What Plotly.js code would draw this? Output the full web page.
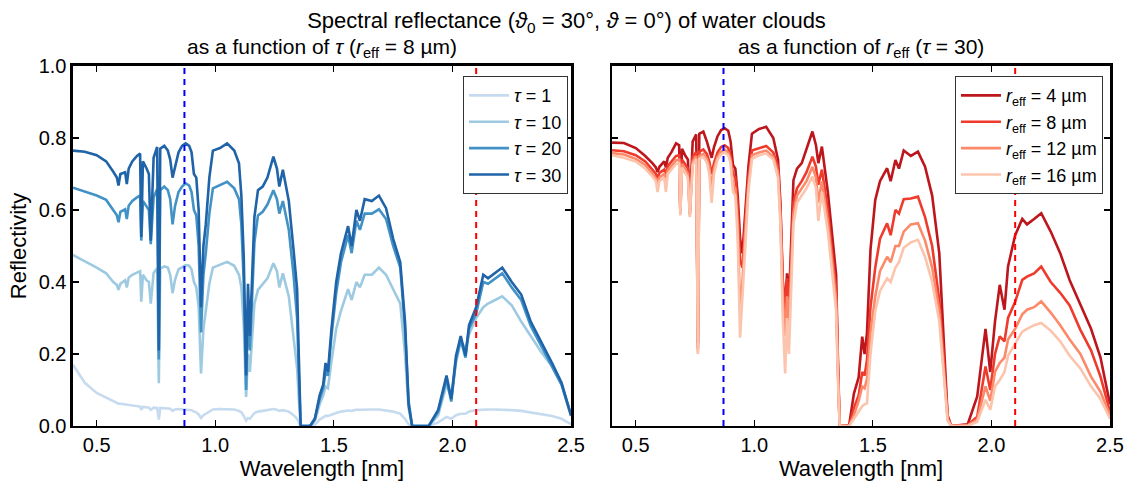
<!DOCTYPE html>
<html>
<head>
<meta charset="utf-8">
<script src="https://cdn.plot.ly/plotly-3.0.1.min.js"></script>
<style>html,body{margin:0;padding:0;background:#fff;}#chart{width:1133px;height:482px;}</style>
</head>
<body>
<div id="chart"></div>
<script>
// Wavelength grid [µm]
const wl = [0.40,0.45,0.50,0.54,0.57,0.585,0.592,0.60,0.62,0.627,
0.635,0.65,0.67,0.683,0.688,0.695,0.71,0.72,0.728,0.74,
0.755,0.762,0.768,0.785,0.80,0.81,0.82,0.83,0.845,0.86,
0.875,0.89,0.90,0.91,0.92,0.93,0.94,0.95,0.96,0.975,
0.99,1.02,1.05,1.08,1.10,1.11,1.12,1.13,1.138,1.146,
1.165,1.18,1.20,1.22,1.245,1.26,1.27,1.285,1.31,1.33,
1.345,1.352,1.36,1.40,1.42,1.44,1.455,1.465,1.475,1.49,
1.51,1.53,1.56,1.575,1.595,1.61,1.63,1.66,1.69,1.72,
1.75,1.78,1.80,1.815,1.83,1.90,1.94,1.975,1.995,2.015,
2.035,2.055,2.07,2.10,2.13,2.15,2.18,2.21,2.25,2.29,
2.33,2.375,2.42,2.46,2.50];

// Left panel: reflectivity vs optical thickness tau (r_eff = 8 µm)
const tau1 = [0.170,0.120,0.092,0.078,0.068,0.064,0.062,0.062,0.060,0.059,
0.058,0.057,0.055,0.054,0.045,0.053,0.052,0.051,0.045,0.051,
0.050,0.018,0.050,0.050,0.049,0.048,0.042,0.046,0.047,0.046,
0.046,0.045,0.044,0.040,0.038,0.032,0.022,0.030,0.034,0.040,
0.046,0.047,0.047,0.046,0.042,0.038,0.028,0.015,0.022,0.020,
0.036,0.040,0.042,0.044,0.047,0.045,0.042,0.044,0.040,0.030,
0.020,0.010,0.000,0.000,0.004,0.018,0.024,0.028,0.028,0.032,
0.036,0.040,0.043,0.042,0.045,0.045,0.046,0.046,0.046,0.044,
0.040,0.034,0.020,0.005,0.000,0.000,0.010,0.025,0.020,0.030,
0.034,0.034,0.040,0.044,0.046,0.046,0.046,0.046,0.044,0.042,
0.038,0.034,0.028,0.020,0.005];
const tau10 = [0.475,0.458,0.440,0.424,0.400,0.392,0.378,0.395,0.405,0.385,
0.412,0.420,0.426,0.430,0.345,0.420,0.405,0.400,0.340,0.425,
0.438,0.119,0.438,0.443,0.440,0.420,0.369,0.405,0.435,0.442,
0.447,0.445,0.435,0.400,0.385,0.330,0.146,0.270,0.320,0.395,
0.440,0.447,0.456,0.445,0.420,0.385,0.280,0.081,0.200,0.150,
0.340,0.378,0.395,0.410,0.452,0.430,0.385,0.424,0.360,0.250,
0.160,0.080,0.000,0.000,0.015,0.060,0.085,0.110,0.105,0.180,
0.270,0.320,0.380,0.350,0.400,0.385,0.420,0.420,0.440,0.420,
0.380,0.340,0.200,0.050,0.000,0.000,0.030,0.115,0.080,0.176,
0.235,0.215,0.255,0.300,0.330,0.340,0.350,0.360,0.335,0.290,
0.250,0.205,0.165,0.115,0.030];
const tau20 = [0.662,0.652,0.640,0.628,0.598,0.585,0.566,0.595,0.602,0.575,
0.612,0.625,0.635,0.640,0.515,0.625,0.610,0.600,0.505,0.635,
0.658,0.185,0.655,0.665,0.655,0.630,0.560,0.610,0.650,0.665,
0.674,0.668,0.650,0.600,0.585,0.500,0.260,0.420,0.480,0.590,
0.660,0.668,0.678,0.660,0.630,0.560,0.400,0.100,0.330,0.210,
0.510,0.585,0.595,0.615,0.655,0.630,0.590,0.625,0.545,0.420,
0.300,0.150,0.000,0.000,0.020,0.075,0.105,0.150,0.140,0.250,
0.370,0.455,0.530,0.480,0.570,0.545,0.590,0.590,0.602,0.575,
0.500,0.440,0.270,0.070,0.000,0.000,0.040,0.130,0.068,0.185,
0.240,0.190,0.270,0.312,0.400,0.395,0.410,0.424,0.385,0.350,
0.278,0.222,0.165,0.115,0.028];
const tau30 = [0.765,0.762,0.752,0.735,0.706,0.690,0.668,0.700,0.705,0.672,
0.715,0.735,0.750,0.757,0.525,0.735,0.716,0.700,0.515,0.745,
0.775,0.210,0.770,0.778,0.765,0.740,0.690,0.720,0.760,0.778,
0.785,0.778,0.760,0.700,0.690,0.600,0.330,0.500,0.560,0.690,
0.765,0.772,0.785,0.765,0.730,0.640,0.470,0.140,0.395,0.250,
0.580,0.655,0.665,0.690,0.748,0.715,0.665,0.712,0.625,0.490,
0.380,0.200,0.000,0.000,0.020,0.085,0.115,0.175,0.150,0.270,
0.400,0.480,0.555,0.500,0.600,0.570,0.630,0.625,0.640,0.605,
0.520,0.455,0.290,0.060,0.000,0.000,0.045,0.140,0.075,0.195,
0.250,0.195,0.280,0.330,0.420,0.410,0.425,0.440,0.400,0.365,
0.290,0.233,0.175,0.120,0.030];

// Right panel: reflectivity vs effective radius (tau = 30)
const reff4 = [0.787,0.786,0.772,0.750,0.730,0.718,0.705,0.720,0.735,0.718,
0.745,0.760,0.785,0.780,0.600,0.770,0.750,0.740,0.600,0.790,
0.810,0.230,0.812,0.818,0.790,0.770,0.745,0.775,0.805,0.822,
0.827,0.820,0.790,0.725,0.715,0.640,0.520,0.480,0.580,0.720,
0.812,0.825,0.831,0.800,0.740,0.620,0.400,0.330,0.424,0.340,
0.683,0.715,0.730,0.770,0.818,0.780,0.730,0.776,0.650,0.520,
0.420,0.200,0.000,0.002,0.090,0.135,0.248,0.200,0.257,0.490,
0.628,0.680,0.716,0.680,0.739,0.715,0.765,0.750,0.762,0.720,
0.640,0.480,0.240,0.030,0.000,0.005,0.082,0.270,0.150,0.290,
0.392,0.323,0.443,0.530,0.575,0.560,0.575,0.591,0.540,0.480,
0.405,0.335,0.270,0.190,0.060];
const reff8 = [0.766,0.763,0.752,0.735,0.712,0.700,0.688,0.703,0.712,0.698,
0.722,0.735,0.750,0.752,0.595,0.740,0.725,0.715,0.590,0.748,
0.762,0.215,0.762,0.768,0.755,0.735,0.700,0.730,0.760,0.775,
0.780,0.772,0.750,0.700,0.690,0.610,0.460,0.440,0.550,0.690,
0.765,0.772,0.778,0.760,0.720,0.600,0.400,0.320,0.410,0.320,
0.620,0.660,0.680,0.705,0.748,0.720,0.670,0.712,0.600,0.470,
0.380,0.180,0.000,0.000,0.050,0.085,0.150,0.140,0.183,0.330,
0.440,0.520,0.563,0.530,0.600,0.590,0.630,0.632,0.637,0.580,
0.500,0.350,0.180,0.025,0.000,0.003,0.026,0.165,0.100,0.200,
0.249,0.235,0.300,0.345,0.406,0.415,0.424,0.443,0.400,0.370,
0.335,0.267,0.210,0.137,0.040];
const reff12 = [0.758,0.754,0.742,0.725,0.700,0.688,0.668,0.690,0.700,0.680,
0.710,0.722,0.738,0.740,0.590,0.728,0.712,0.700,0.585,0.735,
0.750,0.205,0.750,0.756,0.742,0.720,0.660,0.715,0.748,0.762,
0.768,0.760,0.738,0.670,0.660,0.560,0.320,0.400,0.520,0.670,
0.752,0.760,0.765,0.748,0.705,0.580,0.360,0.250,0.360,0.280,
0.590,0.640,0.660,0.680,0.720,0.690,0.620,0.680,0.570,0.440,
0.350,0.160,0.000,0.000,0.030,0.070,0.110,0.105,0.130,0.260,
0.360,0.430,0.470,0.455,0.500,0.500,0.540,0.560,0.563,0.515,
0.440,0.320,0.160,0.020,0.000,0.002,0.018,0.110,0.070,0.150,
0.175,0.190,0.240,0.270,0.310,0.323,0.330,0.346,0.315,0.280,
0.240,0.200,0.137,0.095,0.030];
const reff16 = [0.752,0.745,0.735,0.715,0.693,0.680,0.650,0.680,0.690,0.650,
0.700,0.712,0.728,0.730,0.585,0.718,0.702,0.690,0.580,0.725,
0.742,0.200,0.742,0.748,0.732,0.700,0.620,0.700,0.740,0.755,
0.760,0.752,0.730,0.650,0.640,0.520,0.245,0.360,0.500,0.650,
0.742,0.752,0.757,0.740,0.690,0.560,0.300,0.146,0.300,0.200,
0.560,0.620,0.640,0.660,0.693,0.660,0.570,0.650,0.540,0.420,
0.320,0.140,0.000,0.000,0.020,0.040,0.055,0.060,0.063,0.200,
0.320,0.375,0.410,0.400,0.440,0.455,0.495,0.510,0.517,0.470,
0.400,0.290,0.140,0.015,0.000,0.000,0.012,0.073,0.045,0.110,
0.128,0.150,0.195,0.230,0.262,0.270,0.280,0.286,0.265,0.235,
0.195,0.160,0.110,0.075,0.020];

const tauLabels = ['<i>τ</i> = 1', '<i>τ</i> = 10', '<i>τ</i> = 20', '<i>τ</i> = 30'];
const reffLabels = ['<i>r</i><sub>eff</sub> = 4 µm', '<i>r</i><sub>eff</sub> = 8 µm', '<i>r</i><sub>eff</sub> = 12 µm', '<i>r</i><sub>eff</sub> = 16 µm'];
const bandLines = [0.87, 2.1];   // dashed channel markers [µm]
const yTicks = [0.0, 0.2, 0.4, 0.6, 0.8, 1.0];
const xTicks = [0.5, 1.0, 1.5, 2.0, 2.5];

const blues = ['#c6dbef', '#9ecae1', '#4292c6', '#1f63a8'];
const reds = ['#bd161c', '#ef3b2c', '#fc8a6a', '#fcc4ad'];
const FONT = 'Liberation Sans, Arial, Helvetica, sans-serif';

const tauSeries = [tau1, tau10, tau20, tau30];
const reffSeries = [reff4, reff8, reff12, reff16];

const traces = [];
tauSeries.forEach((s, i) => traces.push({
  x: wl, y: s, type: 'scatter', mode: 'lines', name: tauLabels[i],
  line: {color: blues[i], width: 2.6}, xaxis: 'x', yaxis: 'y', legend: 'legend'
}));
reffSeries.forEach((s, i) => traces.push({
  x: wl, y: s, type: 'scatter', mode: 'lines', name: reffLabels[i],
  line: {color: reds[i], width: 2.6}, xaxis: 'x2', yaxis: 'y2', legend: 'legend2'
}));

const shapes = [];
const bandColors = ['#0000ff', '#ff0000'];
['x', 'x2'].forEach(xr => {
  const yr = xr === 'x' ? 'y' : 'y2';
  bandLines.forEach((b, j) => shapes.push({
    type: 'line', xref: xr, yref: yr, x0: b, x1: b, y0: 0, y1: 1,
    line: {color: bandColors[j], width: 2, dash: '6px,5px'}, layer: 'above'
  }));
});

const yDom = [0.1162, 0.8631];
const axisCommon = {
  showline: true, linecolor: '#000', linewidth: 2.5, mirror: 'ticks',
  ticks: 'inside', ticklen: 6, tickwidth: 1.2, tickcolor: '#000',
  showgrid: false, zeroline: false,
  tickfont: {family: FONT, size: 20, color: '#000'}
};

const layout = {
  width: 1133, height: 482,
  margin: {l: 0, r: 0, t: 0, b: 0},
  paper_bgcolor: '#fff', plot_bgcolor: '#fff',
  font: {family: FONT, color: '#000'},
  showlegend: true,
  title: {
    text: 'Spectral reflectance (<i>ϑ</i><sub>0</sub> = 30°, <i>ϑ</i> = 0°) of water clouds',
    x: 0.5, xanchor: 'center', xref: 'paper', y: 0.958, yanchor: 'middle', yref: 'container',
    font: {family: FONT, size: 22, color: '#000'}
  },
  xaxis: Object.assign({}, axisCommon, {
    domain: [0.0644, 0.504], range: [0.4, 2.5], anchor: 'y',
    tickvals: xTicks, ticktext: xTicks.map(v => v.toFixed(1)),
    title: {text: 'Wavelength [nm]', font: {family: FONT, size: 22}, standoff: 2}
  }),
  yaxis: Object.assign({}, axisCommon, {
    domain: yDom, range: [0, 1], anchor: 'x',
    tickvals: yTicks, ticktext: yTicks.map(v => v.toFixed(1)),
    title: {text: 'Reflectivity', font: {family: FONT, size: 22}, standoff: 6}
  }),
  xaxis2: Object.assign({}, axisCommon, {
    domain: [0.5402, 0.9797], range: [0.4, 2.5], anchor: 'y2',
    tickvals: xTicks, ticktext: xTicks.map(v => v.toFixed(1)),
    title: {text: 'Wavelength [nm]', font: {family: FONT, size: 22}, standoff: 2}
  }),
  yaxis2: Object.assign({}, axisCommon, {
    domain: yDom, range: [0, 1], anchor: 'x2',
    tickvals: yTicks, showticklabels: false
  }),
  legend: {
    x: 0.5013, xanchor: 'right', y: 0.842, yanchor: 'top',
    bgcolor: '#fff', bordercolor: '#333', borderwidth: 1,
    font: {family: FONT, size: 18, color: '#000'}, tracegroupgap: 0, itemwidth: 40
  },
  legend2: {
    x: 0.9735, xanchor: 'right', y: 0.842, yanchor: 'top',
    bgcolor: '#fff', bordercolor: '#333', borderwidth: 1,
    font: {family: FONT, size: 18, color: '#000'}, tracegroupgap: 0, itemwidth: 40
  },
  shapes: shapes,
  annotations: [
    {text: 'as a function of <i>τ</i> (<i>r</i><sub>eff</sub> = 8 µm)', xref: 'paper', yref: 'paper',
     x: (0.0644 + 0.504) / 2, y: 0.9004, xanchor: 'center', yanchor: 'middle', showarrow: false,
     font: {family: FONT, size: 21, color: '#000'}},
    {text: 'as a function of <i>r</i><sub>eff</sub> (<i>τ</i> = 30)', xref: 'paper', yref: 'paper',
     x: (0.5402 + 0.9797) / 2, y: 0.9004, xanchor: 'center', yanchor: 'middle', showarrow: false,
     font: {family: FONT, size: 21, color: '#000'}}
  ]
};

Plotly.newPlot('chart', traces, layout, {staticPlot: true, displayModeBar: false});
</script>
</body>
</html>
